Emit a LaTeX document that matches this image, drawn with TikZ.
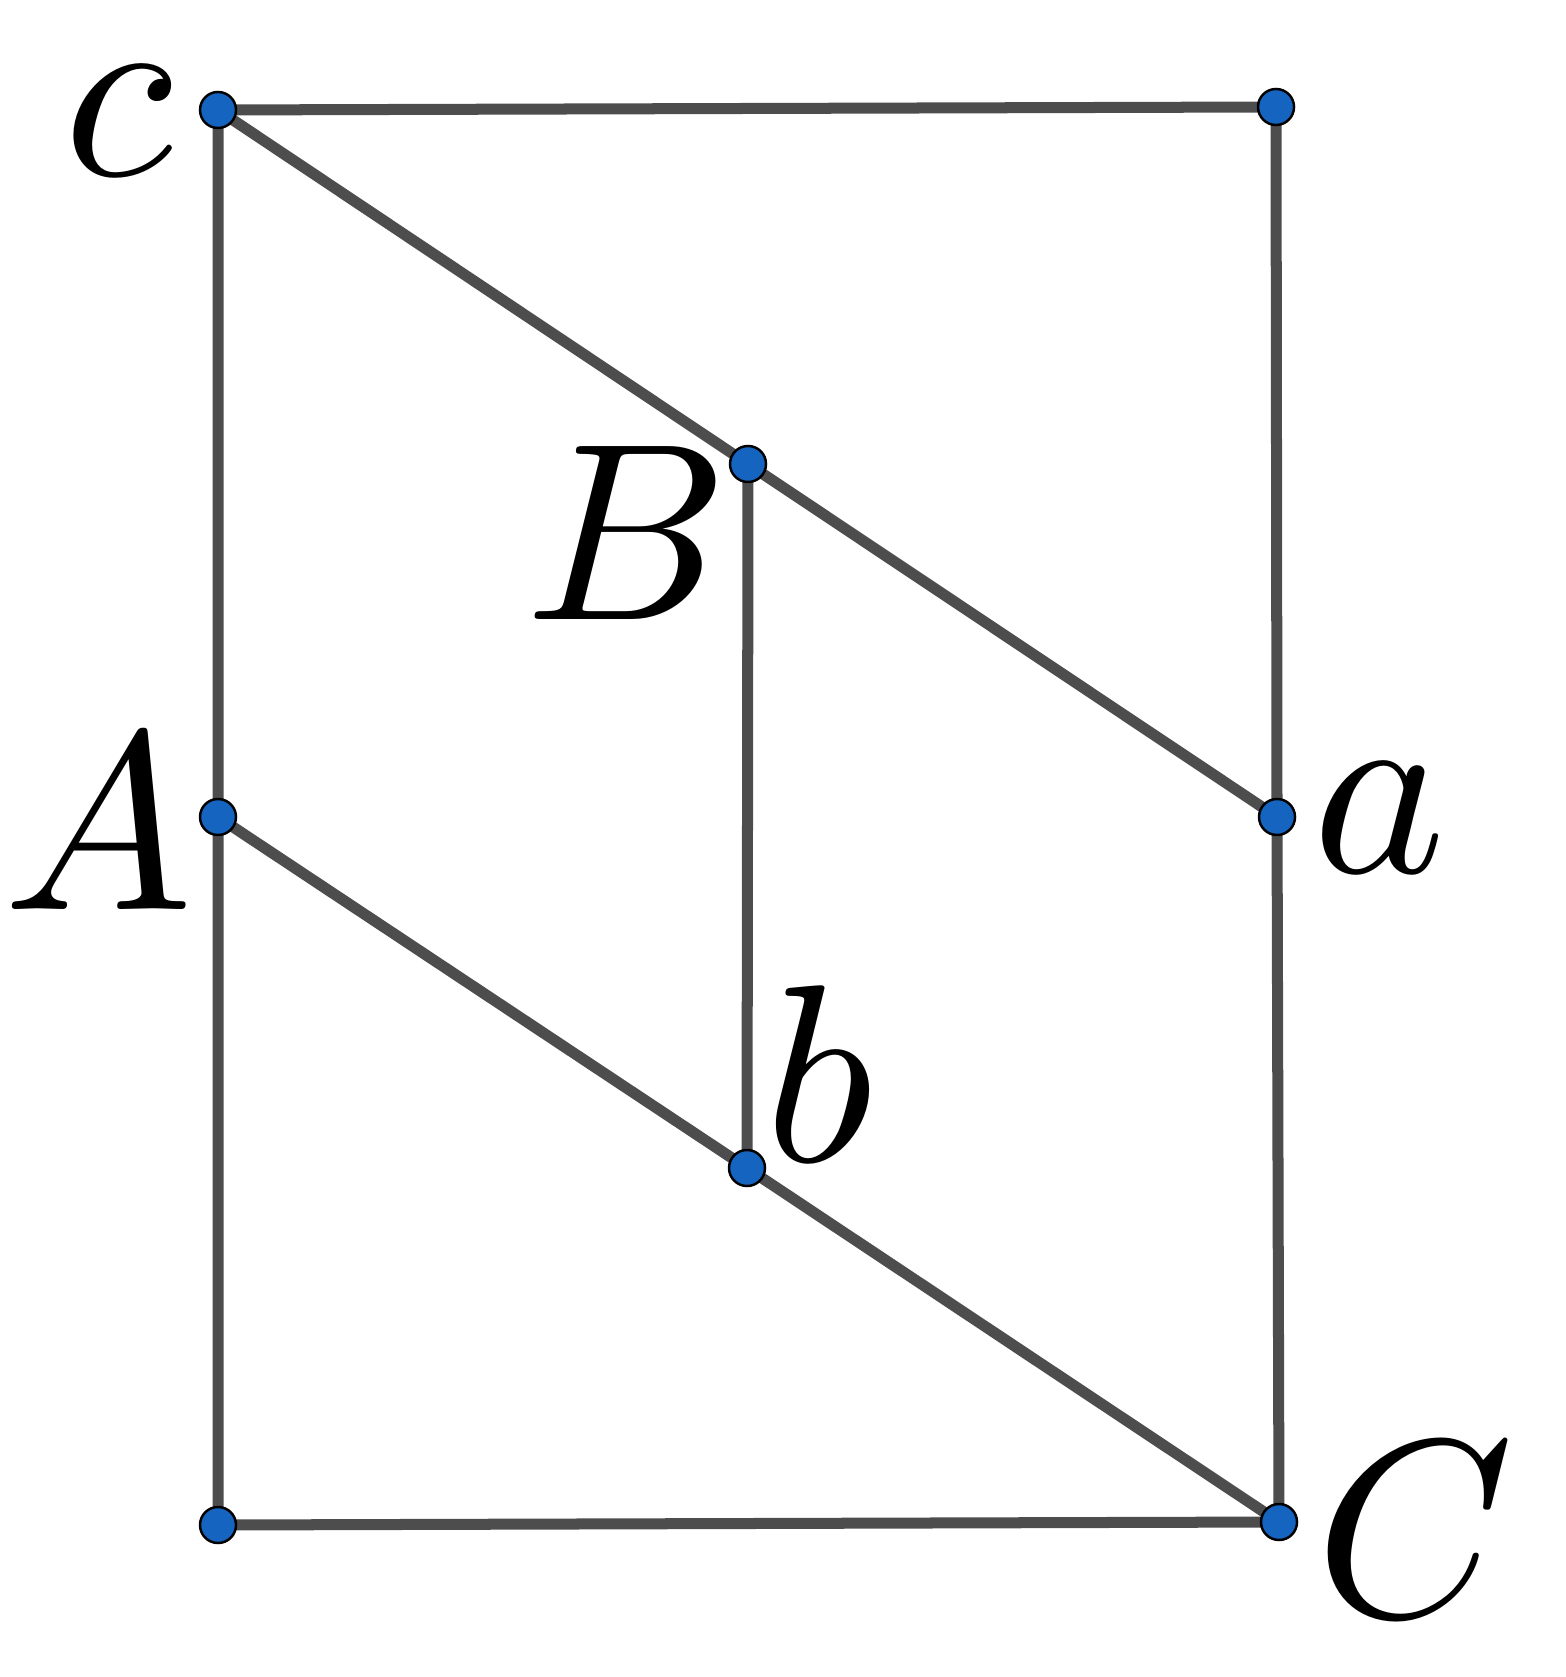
\documentclass[tikz,border=0pt]{standalone}
\font\labelmi=cmmi10 at 72pt
\begin{document}
\begin{tikzpicture}[x=0.01cm,y=-0.01cm,
  seg/.style={draw=linegray,line width=0.11cm},
  dot/.style={circle,fill=dotblue,draw=black,line width=0.7pt,minimum size=0.36cm,inner sep=0pt},
  lbl/.style={anchor=base,inner sep=0pt,font=\labelmi}]
\definecolor{linegray}{RGB}{77,77,77}
\definecolor{dotblue}{RGB}{21,101,192}
\useasboundingbox (0,0) rectangle (1565,1677);
\coordinate (c) at (218,110);
\coordinate (tr) at (1276,107);
\coordinate (B) at (748,464);
\coordinate (A) at (218,817);
\coordinate (a) at (1277,817);
\coordinate (b) at (747,1168);
\coordinate (bl) at (218,1525);
\coordinate (C) at (1279,1522);
\draw[seg] (c) -- (tr) -- (a) -- (C) -- (bl) -- (A) -- (c);
\draw[seg] (c) -- (B) -- (a);
\draw[seg] (A) -- (b) -- (C);
\draw[seg] (B) -- (b);
\foreach \p in {c,tr,B,A,a,b,bl,C} \node[dot] (d\p) at (\p) {};
\node[lbl] (lc) at (118,176) {c};
\node[lbl] (lA) at (98,909) {A};
\node[lbl] (lB) at (621,620) {B};
\node[lbl] (la) at (1379,872) {a};
\node[lbl] (lb) at (819,1161) {b};
\node[lbl] (lC) at (1406,1616) {C};
\end{tikzpicture}
\end{document}
